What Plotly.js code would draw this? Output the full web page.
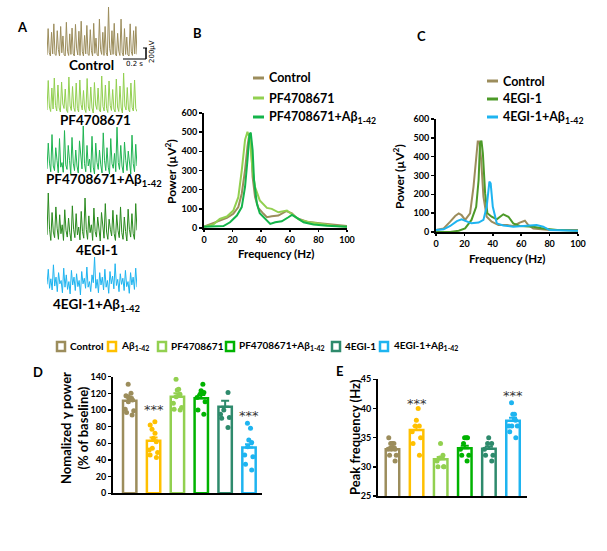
<!DOCTYPE html>
<html><head><meta charset="utf-8">
<script src="https://cdn.plot.ly/plotly-3.0.1.min.js"></script>
<style>html,body{margin:0;padding:0;background:#fff}#chart{width:607px;height:551px}</style>
</head><body><div id="chart"></div>
<script>
// ---------------- DATA ----------------
// Panel A: example LFP traces (µV), sampled every 10 ms
const sampleDt = 0.01;
const traceControl = [20,520,60,0,450,40,610,30,10,480,120,0,560,60,380,20,0,640,90,10,420,30,530,40,0,600,150,20,470,10,660,80,0,390,40,580,30,10,500,100,0,620,50,340,20,0,700,120,30,450,10,560,60,0,930,140,20,480,30,620,40,0,430,90,10,700,60,0,520,30,360,20,0,610,80,10,480,40,560,30];
const tracePF = [60,650,120,30,500,80,700,150,40,560,100,20,620,180,90,480,60,10,720,140,50,530,110,30,600,90,20,660,170,60,450,80,10,690,120,40,520,100,0,610,160,70,500,60,20,740,130,40,560,90,10,640,150,50,470,80,20,680,120,30,540,100,0,800,140,60,510,70,20,600,110,40,660,90,30];
const tracePFAb = [150,600,250,100,750,200,120,520,300,80,680,180,260,90,820,220,140,560,300,60,700,250,120,480,200,80,640,310,150,900,240,100,560,200,320,90,720,180,60,600,260,140,480,220,80,780,300,120,520,180,60,680,240,160,420,100,880,260,140,560,200,80,620,300,120,460,180,60,740,240,100,580,200];
const trace4EGI = [200,950,300,100,600,250,150,700,320,120,560,220,380,100,650,280,160,500,240,90,720,300,150,580,200,340,110,620,260,140,860,300,120,540,240,380,100,680,260,160,520,220,90,600,310,140,760,250,120,480,300,180,640,220,100,560,280,150,700,240,120,520,260,90,660,300,160,580,220,120,760,280];
const trace4EGIAb = [250,520,180,350,150,600,220,380,120,460,260,320,100,540,200,420,160,300,80,500,240,380,140,440,210,320,60,480,260,360,180,560,200,300,120,420,280,740,180,340,100,460,240,380,150,520,200,320,90,480,260,400,170,620,230,340,120,440,250,360,140,500,210,300,90,460,240,380,160,540,200];
const traceLabels = ['Control','PF4708671','PF4708671+Aβ<sub>1-42</sub>','4EGI-1','4EGI-1+Aβ<sub>1-42</sub>'];

// Panel B: power spectra (Hz, µV²)
const bCtrlF = [0,11,16,20.5,24,26.4,28.7,30.4,31.8,33,34,35.7,38,41.6,44,47.4,52,57.5,61.5,65,72,81,90.7,100];
const bCtrlP = [8,39,53,74,109,179,302,425,495,425,267,161,105,74,56,61,65,88,77,51,33,25,18,10];
const bPFF = [0,6.5,11,16,20.5,24,26.4,28.7,30.4,32.2,34,35.7,39,44,47.4,52,58,62.6,67,74,81,90.7,100];
const bPFP = [7,18,47,60,91,161,300,460,502,460,300,214,144,105,100,82,91,65,42,30,21,12,7];
const bPFAbF = [0,6.5,13.6,18.2,23,26.4,28.7,30.4,31.8,32.7,34,35,37,39,42.8,46.3,49.8,54.4,59,61.5,65,69.6,76.6,86,100];
const bPFAbP = [7,7,10,30,65,109,214,354,486,498,407,249,126,77,47,21,30,35,56,68,53,30,18,12,7];
const bNames = ['Control','PF4708671','PF4708671+Aβ<sub>1-42</sub>'];

// Panel C: power spectra (Hz, µV²)
const cCtrlF = [0,5.4,10,13.5,16,18,20.5,24,26.4,28.3,29.4,30.6,31.8,33.4,35.7,39.2,44,50,54.4,59,62.6,65,68.5,80,100];
const cCtrlP = [10,19,55,85,99,90,64,99,240,382,480,480,382,188,81,55,37,37,32,50,60,37,19,10,10];
const c4EGIF = [0,10,16,20.5,25,28.3,30,31,32,33,34.6,36.2,39.2,42.8,47.4,51,54.4,59,68.5,75.5,87,100];
const c4EGIP = [0,0,7,19,64,134,276,471,485,418,205,99,81,67,94,81,46,32,28,19,10,7];
const c4EGIAbF = [0,5.4,10,14.7,18,21.7,25,30,33.4,35.7,37.6,38.5,40,42.8,47.4,54.4,63.8,70.8,75.5,80,100];
const c4EGIAbP = [10,14,32,58,67,55,46,50,64,134,267,258,134,46,35,28,32,37,28,10,7];
const cNames = ['Control','4EGI-1','4EGI-1+Aβ<sub>1-42</sub>'];

// Panels D, E: group summaries
const groups = ['Control','Aβ1-42','PF4708671','PF4708671+Aβ1-42','4EGI-1','4EGI-1+Aβ1-42'];
const groupLabels = ['Control','Aβ<sub>1-42</sub>','PF4708671','PF4708671+Aβ<sub>1-42</sub>','4EGI-1','4EGI-1+Aβ<sub>1-42</sub>'];
const powerMean = [111,63,116,114,104,55];
const powerSem = [4,4,4,4,7,4];
const powerDots = [
  [131,120,117,116,114,113,112,110,101,99,97,94],
  [86,82,77,72,66,62,54,52,49,46,43],
  [137,125,124,119,116,108,103,101,100],
  [131,123,121,119,115,110,100,95],
  [121,100,95,91,90,79],
  [84,78,64,61,56,46,44,35,28]
];
const freqMean = [33.0,36.3,31.3,33.2,33.1,37.9];
const freqSem = [0.4,0.7,0.4,0.4,0.4,0.5];
const freqDots = [
  [35,34,34,34,33,33,33,32,32,31],
  [40,38,37,37,36,35,34,32],
  [34,32,31.5,31,30,30,30],
  [35,35,35,34,33,32,32,31],
  [35,34,34,33,32,32,31],
  [41,39,39,38,37,37,37,36,35]
];
const sigGroups = ['Aβ1-42','4EGI-1+Aβ1-42'];
const sigLabel = '***';

// ---------------- STYLE ----------------
const FONT = 'Lato, "Open Sans", sans-serif';
const traceColors = ['#9c8d5c','#92d050','#20b452','#2a8a1e','#1eb4f0'];
const bColors = ['#9c8d5c','#92d050','#14b44a'];
const cColors = ['#9c8d5c','#4c9a28','#1eb4f0'];
const barColors = ['#9c8d5c','#ffc000','#92d050','#00b300','#2e8a6c','#1eb4f0'];

const W = 607, H = 551;
const dx = (a,b)=>[a/W,b/W];
const dy = (top,bottom)=>[1-bottom/H,1-top/H];
const PX = x=>x/W, PY = y=>1-y/H;

const data = [];
const layout = {
  width: W, height: H, margin:{l:0,r:0,t:0,b:0},
  paper_bgcolor:'#fff', plot_bgcolor:'rgba(0,0,0,0)',
  showlegend:false, barmode:'overlay', boxmode:'overlay',
  font:{family:FONT, color:'#000'},
  annotations:[], shapes:[]
};
function ann(text,x,y,o){
  layout.annotations.push(Object.assign({text:text,xref:'paper',yref:'paper',x:PX(x),y:PY(y),
    showarrow:false,xanchor:'center',yanchor:'middle',font:{family:FONT,size:13,color:'#000'}},o||{}));
}

// ---- Panel A ----
const traces = [traceControl,tracePF,tracePFAb,trace4EGI,trace4EGIAb];
const traceBox = [[7,56],[73,113],[126,174],[193,241],[257,295]];
const traceLabelY = [65,120,180,250,305];
const traceLabelX = [91,95,104,97,97];
traces.forEach((arr,i)=>{
  const k = i+1;
  const t = arr.map((_,j)=>j*sampleDt);
  data.push({type:'scatter',mode:'lines',x:t,y:arr,xaxis:'x'+k,yaxis:'y'+k,
    line:{color:traceColors[i],width:1},hoverinfo:'skip'});
  layout['xaxis'+k] = {domain:dx(47,137),range:[0,(arr.length-1)*sampleDt],visible:false,anchor:'y'+k};
  layout['yaxis'+k] = {domain:dy(traceBox[i][0],traceBox[i][1]),range:[Math.min(...arr),Math.max(...arr)],visible:false,anchor:'x'+k};
  ann('<b>'+traceLabels[i]+'</b>',traceLabelX[i],traceLabelY[i],{font:{family:FONT,size:13.5,color:'#000'}});
});
// scale bar
layout.shapes.push({type:'line',xref:'paper',yref:'paper',x0:PX(123),x1:PX(146),y0:PY(59),y1:PY(59),line:{color:'#000',width:1}});
layout.shapes.push({type:'line',xref:'paper',yref:'paper',x0:PX(146),x1:PX(146),y0:PY(48),y1:PY(59),line:{color:'#000',width:1.5}});
layout.shapes.push({type:'line',xref:'paper',yref:'paper',x0:PX(143),x1:PX(147),y0:PY(48),y1:PY(48),line:{color:'#000',width:1}});
ann('0.2 s',134,64,{font:{family:'DejaVu Sans',size:7,color:'#000'}});
ann('200µV',152,52,{textangle:-90,font:{family:'DejaVu Sans',size:7,color:'#000'}});

// ---- Spectra axes helper ----
function specAxes(k, xd, yd){
  const tf = {family:FONT,size:9,color:'#000',weight:'bold'};
  layout['xaxis'+k] = {domain:xd,range:[0,100],dtick:20,tick0:0,showline:true,linecolor:'#000',linewidth:2,
    ticks:'outside',ticklen:2,tickwidth:1.5,tickcolor:'#000',tickfont:tf,showgrid:false,zeroline:false,anchor:'y'+k,fixedrange:true};
  layout['yaxis'+k] = {domain:yd,range:[0,600],dtick:100,tick0:0,showline:true,linecolor:'#000',linewidth:2,
    ticks:'outside',ticklen:3,tickwidth:1.5,tickcolor:'#000',tickfont:tf,showgrid:false,zeroline:false,anchor:'x'+k,fixedrange:true};
}
// ---- Panel B ----
specAxes(6, dx(204,347), dy(113,228));
[[bCtrlF,bCtrlP],[bPFF,bPFP],[bPFAbF,bPFAbP]].forEach((s,i)=>{
  data.push({type:'scatter',mode:'lines',x:s[0],y:s[1],xaxis:'x6',yaxis:'y6',line:{color:bColors[i],width:2},hoverinfo:'skip'});
});
const bLegY=[78,98,117];
bNames.forEach((n,i)=>{
  layout.shapes.push({type:'line',xref:'paper',yref:'paper',x0:PX(253),x1:PX(264),y0:PY(bLegY[i]),y1:PY(bLegY[i]),line:{color:bColors[i],width:3}});
  ann('<b>'+n+'</b>',267,bLegY[i],{xanchor:'left',font:{family:FONT,size:12.5,color:'#000'}});
});
ann('<b>Power (µV<sup>2</sup>)</b>',171,172,{textangle:-90,font:{family:FONT,size:12,color:'#000'}});
ann('<b>Frequency (Hz)</b>',276,254,{font:{family:FONT,size:11.5,color:'#000'}});

// ---- Panel C ----
specAxes(7, dx(436,578), dy(119,232));
[[cCtrlF,cCtrlP],[c4EGIF,c4EGIP],[c4EGIAbF,c4EGIAbP]].forEach((s,i)=>{
  data.push({type:'scatter',mode:'lines',x:s[0],y:s[1],xaxis:'x7',yaxis:'y7',line:{color:cColors[i],width:2},hoverinfo:'skip'});
});
const cLegY=[81,99,117];
cNames.forEach((n,i)=>{
  layout.shapes.push({type:'line',xref:'paper',yref:'paper',x0:PX(487),x1:PX(498),y0:PY(cLegY[i]),y1:PY(cLegY[i]),line:{color:cColors[i],width:3}});
  ann('<b>'+n+'</b>',501,cLegY[i],{xanchor:'left',font:{family:FONT,size:12.5,color:'#000'}});
});
ann('<b>Power (µV<sup>2</sup>)</b>',399,177,{textangle:-90,font:{family:FONT,size:12,color:'#000'}});
ann('<b>Frequency (Hz)</b>',507,258,{font:{family:FONT,size:11.5,color:'#000'}});

// ---- Panels D & E ----
function summaryPanel(k, xd, yd, xr, yr, dtick, means, sems, dots){
  const tf = {family:FONT,size:9,color:'#000',weight:'bold'};
  layout['xaxis'+k] = {domain:xd,type:'category',categoryorder:'array',categoryarray:groups,range:xr,
    showline:true,linecolor:'#000',linewidth:2,ticks:'',showticklabels:false,showgrid:false,zeroline:false,anchor:'y'+k,fixedrange:true};
  layout['yaxis'+k] = {domain:yd,range:yr,dtick:dtick,tick0:yr[0],showline:true,linecolor:'#000',linewidth:2,
    ticks:'outside',ticklen:3,tickwidth:1.5,tickcolor:'#000',tickfont:tf,showgrid:false,zeroline:false,anchor:'x'+k,fixedrange:true};
  groups.forEach((g,i)=>{
    data.push({type:'bar',x:[g],y:[means[i]],xaxis:'x'+k,yaxis:'y'+k,width:0.56,
      marker:{color:'#fff',line:{color:barColors[i],width:2.5}},
      error_y:{type:'data',symmetric:false,array:[sems[i]],arrayminus:[0],color:barColors[i],thickness:2,width:4},
      hoverinfo:'skip'});
  });
  groups.forEach((g,i)=>{
    data.push({type:'box',x:dots[i].map(()=>g),y:dots[i],xaxis:'x'+k,yaxis:'y'+k,
      boxpoints:'all',jitter:1,pointpos:0,width:0.46,whiskerwidth:0,
      fillcolor:'rgba(0,0,0,0)',line:{width:0,color:'rgba(0,0,0,0)'},
      marker:{color:barColors[i],size:5,line:{width:0}},hoverinfo:'skip'});
  });
}
summaryPanel(8, dx(113,262), dy(376.7,493.3), [-0.7,5.545], [0,140], 20, powerMean, powerSem, powerDots);
summaryPanel(9, dx(378,527), dy(379.3,496), [-0.6,5.58], [25,45], 5, freqMean, freqSem, freqDots);
// significance stars
const starD = [101,94], starE = [40.8,42.2];
sigGroups.forEach((g,i)=>{
  layout.annotations.push({text:sigLabel,xref:'x8',yref:'y8',x:g,y:starD[i],showarrow:false,yanchor:'middle',font:{family:'DejaVu Sans',size:13,color:'#333'}});
  layout.annotations.push({text:sigLabel,xref:'x9',yref:'y9',x:g,y:starE[i],showarrow:false,yanchor:'middle',font:{family:'DejaVu Sans',size:13,color:'#333'}});
});
ann('<b>Nomalized γ power<br>(% of baseline)</b>',75,428,{textangle:-90,font:{family:FONT,size:13,color:'#000'}});
ann('<b>Peak frequency (Hz)</b>',355,437,{textangle:-90,font:{family:FONT,size:13,color:'#000'}});

// bottom legend
const legSq = [57,108,158,226,332,380];
const legTx = [68,119,169,237,343,392];
groupLabels.forEach((n,i)=>{
  layout.shapes.push({type:'rect',xref:'paper',yref:'paper',x0:PX(legSq[i]),x1:PX(legSq[i]+8),y0:PY(351),y1:PY(342),
    line:{color:barColors[i],width:2.5},fillcolor:'#fff'});
  ann(n,legTx[i],346,{xanchor:'left',font:{family:FONT,size:10,color:'#000',weight:'bold'}});
});

// panel letters
ann('<b>A</b>',22,27); ann('<b>B</b>',198,33); ann('<b>C</b>',421,36); ann('<b>D</b>',38,372); ann('<b>E</b>',339,371);

Plotly.newPlot('chart', data, layout, {staticPlot:true, displayModeBar:false});
</script></body></html>
